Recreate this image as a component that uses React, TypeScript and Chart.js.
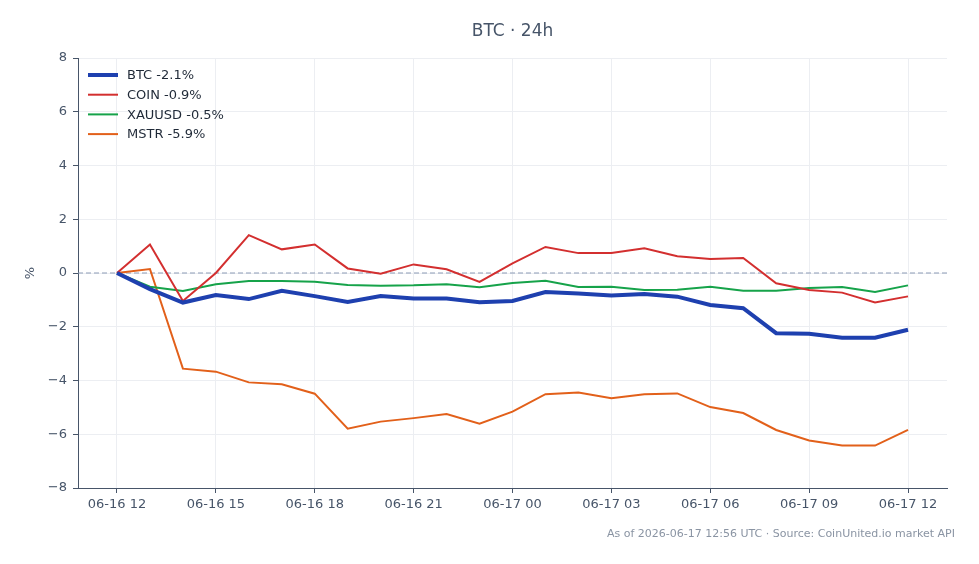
import React, { useEffect, useRef } from "react";
import { Chart, registerables } from "chart.js";

Chart.register(...registerables);

const TITLE = "BTC · 24h";
const FOOTER = "As of 2026-06-17 12:56 UTC · Source: CoinUnited.io market API";
const Y_LABEL = "%";

const HOURS = [
  "06-16 12", "06-16 13", "06-16 14", "06-16 15", "06-16 16", "06-16 17", "06-16 18",
  "06-16 19", "06-16 20", "06-16 21", "06-16 22", "06-16 23", "06-17 00", "06-17 01",
  "06-17 02", "06-17 03", "06-17 04", "06-17 05", "06-17 06", "06-17 07", "06-17 08",
  "06-17 09", "06-17 10", "06-17 11", "06-17 12",
];
const TICK_LABELS = ["06-16 12", "06-16 15", "06-16 18", "06-16 21", "06-17 00", "06-17 03", "06-17 06", "06-17 09", "06-17 12"];
const Y_TICKS = [-8, -6, -4, -2, 0, 2, 4, 6, 8];

const BTC = [0, -0.6, -1.1, -0.82, -0.97, -0.66, -0.86, -1.08, -0.86, -0.95, -0.95, -1.09, -1.04,
  -0.71, -0.76, -0.84, -0.78, -0.88, -1.19, -1.31, -2.24, -2.26, -2.41, -2.41, -2.11];
const COIN = [0, 1.06, -1.04, 0, 1.41, 0.88, 1.06, 0.17, -0.03, 0.32, 0.14, -0.33, 0.36,
  0.97, 0.74, 0.74, 0.92, 0.62, 0.52, 0.56, -0.38, -0.63, -0.73, -1.1, -0.87];
const XAUUSD = [0, -0.51, -0.67, -0.42, -0.3, -0.3, -0.33, -0.45, -0.47, -0.46, -0.42, -0.53, -0.37,
  -0.29, -0.52, -0.51, -0.63, -0.62, -0.51, -0.66, -0.66, -0.56, -0.52, -0.71, -0.46];
const MSTR = [0, 0.15, -3.56, -3.67, -4.07, -4.14, -4.49, -5.79, -5.53, -5.4, -5.25, -5.61, -5.16,
  -4.51, -4.45, -4.66, -4.51, -4.48, -4.99, -5.21, -5.84, -6.23, -6.42, -6.42, -5.84];

const SERIES = [
  { label: "BTC -2.1%", data: BTC, color: "#1e40af", width: 4 },
  { label: "COIN -0.9%", data: COIN, color: "#d32f2f", width: 2 },
  { label: "XAUUSD -0.5%", data: XAUUSD, color: "#16a34a", width: 2 },
  { label: "MSTR -5.9%", data: MSTR, color: "#e2601a", width: 2 },
];

const FONT = "'DejaVu Sans', sans-serif";
const TEXT = "#475569";

const overlay = {
  id: "overlay",
  beforeDatasetsDraw(chart: any) {
    const { ctx, chartArea, scales } = chart;
    const y0 = scales.y.getPixelForValue(0);
    ctx.save();
    ctx.strokeStyle = "#8c9bb5";
    ctx.lineWidth = 1;
    ctx.setLineDash([5, 3]);
    ctx.beginPath();
    ctx.moveTo(chartArea.left, y0);
    ctx.lineTo(chartArea.right, y0);
    ctx.stroke();
    ctx.restore();
  },
  afterDraw(chart: any) {
    const { ctx, chartArea } = chart;
    ctx.save();
    // title
    ctx.fillStyle = TEXT;
    ctx.font = `17px ${FONT}`;
    ctx.textAlign = "center";
    ctx.textBaseline = "middle";
    ctx.fillText(TITLE, (chartArea.left + chartArea.right) / 2, 32);
    // y axis title
    ctx.save();
    ctx.translate(31, (chartArea.top + chartArea.bottom) / 2);
    ctx.rotate(-Math.PI / 2);
    ctx.font = `13px ${FONT}`;
    ctx.fillText(Y_LABEL, 0, 0);
    ctx.restore();
    // footer
    ctx.fillStyle = "#8a94a3";
    ctx.font = `11px ${FONT}`;
    ctx.textAlign = "right";
    ctx.fillText(FOOTER, 955, 534);
    // legend
    ctx.font = `13px ${FONT}`;
    ctx.textAlign = "left";
    SERIES.forEach((s, i) => {
      const y = chartArea.top + 17 + i * 19.7;
      ctx.strokeStyle = s.color;
      ctx.lineWidth = s.width;
      ctx.beginPath();
      ctx.moveTo(chartArea.left + 10, y);
      ctx.lineTo(chartArea.left + 40, y);
      ctx.stroke();
      ctx.fillStyle = "#1f2937";
      ctx.fillText(s.label, chartArea.left + 49, y + 1);
    });
    ctx.restore();
  },
};

export default function App() {
  const ref = useRef<HTMLCanvasElement>(null);
  useEffect(() => {
    document.body.style.margin = "0";
    const chart = new Chart(ref.current!, {
      type: "line",
      data: {
        datasets: SERIES.map((s) => ({
          label: s.label,
          data: s.data.map((v, i) => ({ x: i, y: v })),
          borderColor: s.color,
          backgroundColor: s.color,
          borderWidth: s.width,
          pointRadius: 0,
          tension: 0,
          fill: false,
        })),
      },
      options: {
        responsive: false,
        animation: false,
        layout: { padding: { top: 58, right: 32, left: 0, bottom: 0 } },
        plugins: { legend: { display: false }, title: { display: false }, tooltip: { enabled: false } },
        scales: {
          x: {
            type: "linear",
            min: -1.183,
            max: HOURS.length - 1 + 1.183,
            afterBuildTicks: (scale: any) => {
              scale.ticks = TICK_LABELS.map((_, i) => ({ value: i * 3 }));
            },
            afterFit: (scale: any) => { scale.height = 76; },
            ticks: {
              color: TEXT,
              font: { family: FONT, size: 13 },
              padding: 4,
              maxRotation: 0,
              autoSkip: false,
              callback: (v: any) => HOURS[v as number],
            },
            grid: { color: "#eceef2", tickColor: TEXT, tickLength: 5, lineWidth: 1 },
            border: { color: TEXT, width: 1 },
          },
          y: {
            type: "linear",
            min: -8,
            max: 8,
            afterBuildTicks: (scale: any) => {
              scale.ticks = Y_TICKS.map((v) => ({ value: v }));
            },
            afterFit: (scale: any) => { scale.width = 78; },
            ticks: {
              color: TEXT,
              font: { family: FONT, size: 13 },
              padding: 6,
              callback: (v: any) => (v < 0 ? "\u2212" + Math.abs(v) : String(v)),
            },
            grid: { color: "#eceef2", tickColor: TEXT, tickLength: 5, lineWidth: 1 },
            border: { color: TEXT, width: 1 },
          },
        },
      },
      plugins: [overlay],
    } as any);
    return () => chart.destroy();
  }, []);
  return <canvas ref={ref} width={979} height={564} style={{ display: "block" }} />;
}
